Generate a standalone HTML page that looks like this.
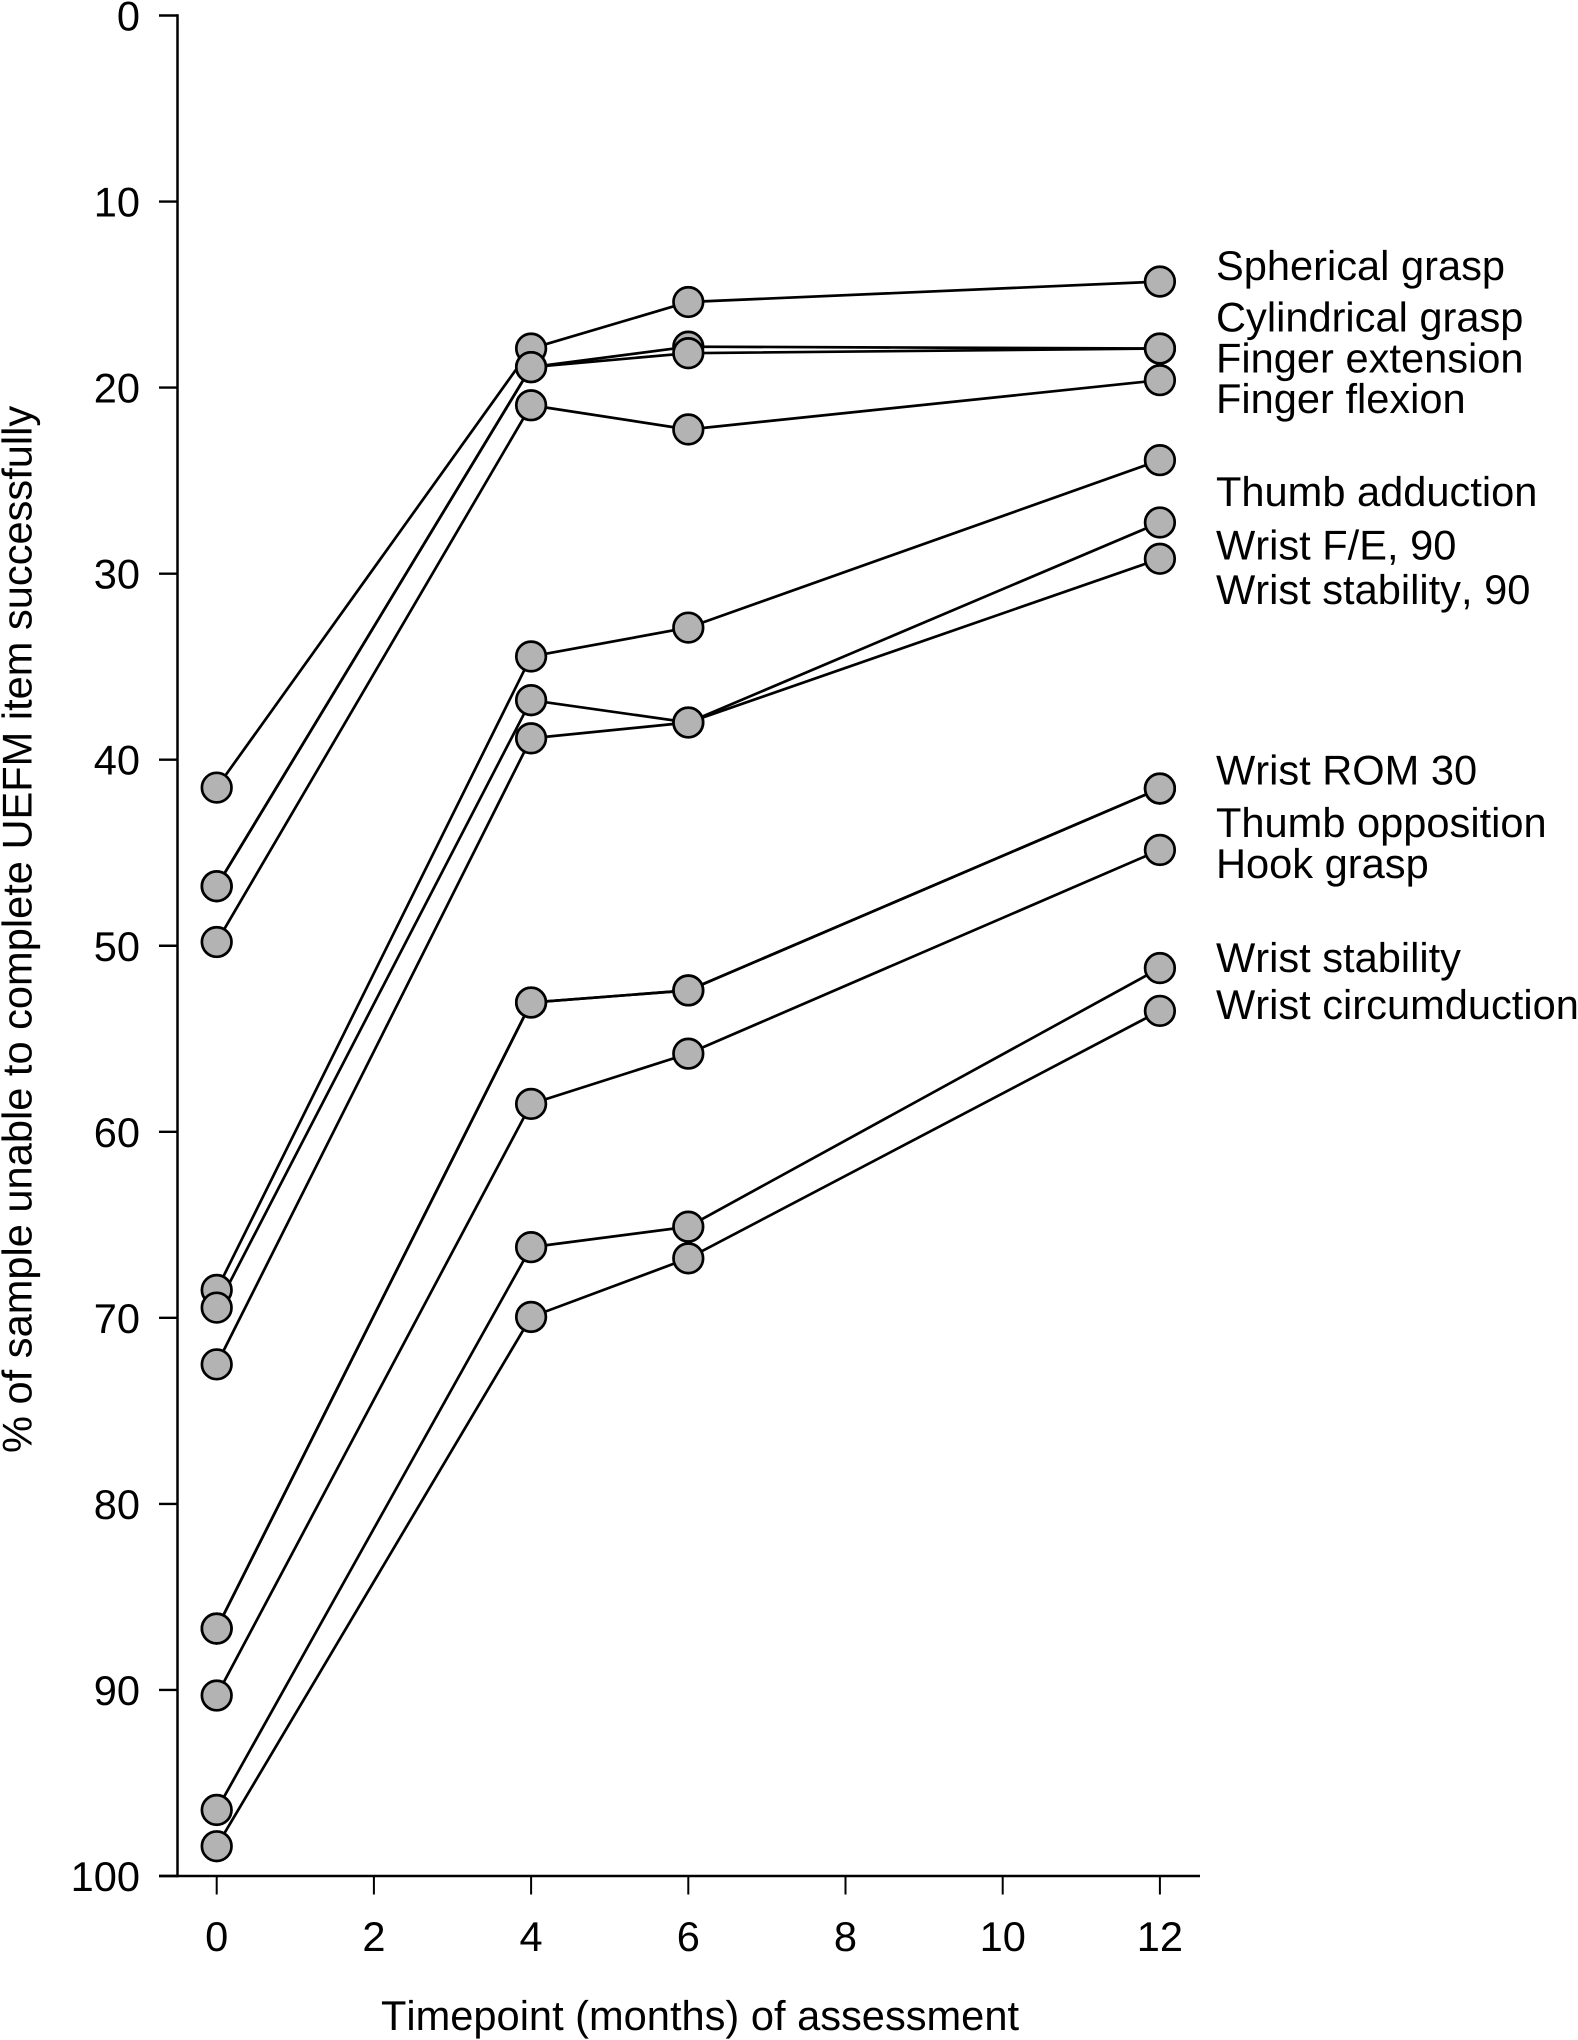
<!DOCTYPE html>
<html lang="en">
<head>
<meta charset="utf-8">
<title>UEFM item recovery chart</title>
<style>
html,body{margin:0;padding:0;background:#fff;}
svg{display:block;}
text{font-family:"Liberation Sans",Arial,sans-serif;font-size:41.6px;fill:#000;font-kerning:none;text-rendering:geometricPrecision;}
</style>
</head>
<body>
<svg id="chart" width="1578" height="2040" viewBox="0 0 1578 2040" xmlns="http://www.w3.org/2000/svg">
  <rect width="1578" height="2040" fill="#fff"/>
  <g id="axes"></g>
  <g id="marks"></g>
  <text transform="translate(31.5,1453) rotate(-90)">% of sample unable to complete UEFM item successfully</text>
  <text x="381" y="2030">Timepoint (months) of assessment</text>
  <g>
    <text x="1216" y="280">Spherical grasp</text>
    <text x="1216" y="331.5">Cylindrical grasp</text>
    <text x="1216" y="372.5">Finger extension</text>
    <text x="1216" y="413">Finger flexion</text>
    <text x="1216" y="506">Thumb adduction</text>
    <text x="1216" y="559.5">Wrist F/E, 90</text>
    <text x="1216" y="604">Wrist stability, 90</text>
    <text x="1216" y="784.5">Wrist ROM 30</text>
    <text x="1216" y="837">Thumb opposition</text>
    <text x="1216" y="878">Hook grasp</text>
    <text x="1216" y="972">Wrist stability</text>
    <text x="1216" y="1019">Wrist circumduction</text>
  </g>
</svg>
<script>
const timepoints = [0, 4, 6, 12];
const xTickLabels = [0, 2, 4, 6, 8, 10, 12];
const yTickLabels = [0, 10, 20, 30, 40, 50, 60, 70, 80, 90, 100];

const sphericalGrasp = [41.5, 17.9, 15.4, 14.3];
const cylindricalGrasp = [46.8, 18.9, 17.8, 17.9];
const fingerExtension = [46.8, 18.9, 18.15, 17.9];
const fingerFlexion = [49.8, 20.95, 22.25, 19.6];
const thumbAdduction = [68.5, 34.45, 32.9, 23.9];
const wristFE90 = [69.45, 36.8, 38.0, 27.25];
const wristStability90 = [72.5, 38.85, 38.0, 29.2];
const wristRom30 = [86.7, 53.05, 52.4, 41.55];
const thumbOpposition = [86.7, 53.05, 52.4, 41.55];
const hookGrasp = [90.3, 58.5, 55.8, 44.85];
const wristStability = [96.45, 66.2, 65.1, 51.2];
const wristCircumduction = [98.4, 69.95, 66.8, 53.5];

const seriesList = [
  sphericalGrasp, cylindricalGrasp, fingerExtension, fingerFlexion,
  thumbAdduction, wristFE90, wristStability90,
  wristRom30, thumbOpposition, hookGrasp,
  wristStability, wristCircumduction
];

const NS = 'http://www.w3.org/2000/svg';
const xScale = function (m) { return 216.7 + m * 78.6; };
const yScale = function (v) { return 15.5 + v * 18.605; };

function make(tag, parent) {
  const el = document.createElementNS(NS, tag);
  parent.appendChild(el);
  return el;
}

function drawLine(parent, x1, y1, x2, y2, w) {
  const l = make('line', parent);
  l.setAttribute('x1', x1);
  l.setAttribute('y1', y1);
  l.setAttribute('x2', x2);
  l.setAttribute('y2', y2);
  l.setAttribute('stroke', '#000');
  l.setAttribute('stroke-width', w);
  return l;
}

const axes = document.getElementById('axes');
const marks = document.getElementById('marks');

const yAxisLine = drawLine(axes, 177.5, yScale(0) - 1.2, 177.5, yScale(100) + 1.2, 2.5);



const xAxisLine = drawLine(axes, 159, yScale(100), 1200, yScale(100), 2.5);



yTickLabels.forEach(function (v) {
  const t = drawLine(axes, 159, yScale(v), 177.5, yScale(v), 2.4);
  
  
  const lab = make('text', axes);
  
  
  lab.setAttribute('x', 140);
  lab.setAttribute('y', yScale(v) + 15);
  lab.setAttribute('text-anchor', 'end');
  lab.textContent = v;
});

xTickLabels.forEach(function (m) {
  const t = drawLine(axes, xScale(m), yScale(100), xScale(m), 1894.5, 2);
  
  
  const lab = make('text', axes);
  
  
  lab.setAttribute('x', xScale(m));
  lab.setAttribute('y', 1951);
  lab.setAttribute('text-anchor', 'middle');
  lab.textContent = m;
});

seriesList.forEach(function (values) {
  const pts = values.map(function (v, i) {
    return xScale(timepoints[i]) + ',' + yScale(v);
  }).join(' ');
  const line = make('polyline', marks);
  
  
  line.setAttribute('points', pts);
  line.setAttribute('fill', 'none');
  line.setAttribute('stroke', '#000');
  line.setAttribute('stroke-width', '2.7');
});

seriesList.forEach(function (values) {
  values.forEach(function (v, i) {
    const c = make('circle', marks);
    
    
    c.setAttribute('cx', xScale(timepoints[i]));
    c.setAttribute('cy', yScale(v));
    c.setAttribute('r', '14.8');
    c.setAttribute('fill', '#b3b3b3');
    c.setAttribute('stroke', '#000');
    c.setAttribute('stroke-width', '2.7');
  });
});
</script>
</body>
</html>
